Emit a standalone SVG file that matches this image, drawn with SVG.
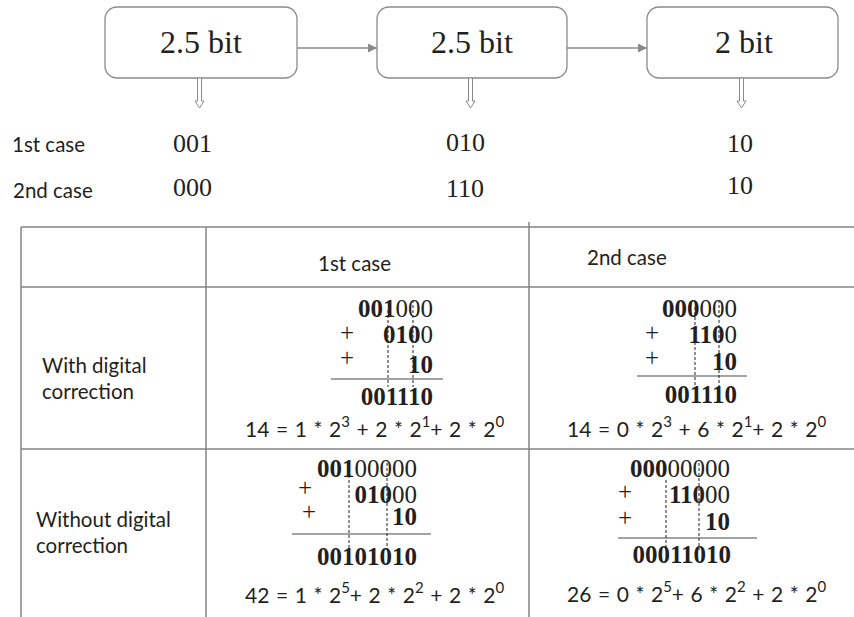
<svg xmlns="http://www.w3.org/2000/svg" width="854" height="617" viewBox="0 0 854 617">
<defs>
<style>
.box{fill:#fff;stroke:#8a8a8a;stroke-width:1.3}
.ln{stroke:#858585;stroke-width:1.5;fill:none}
.conn{stroke:#8a8a8a;stroke-width:1.3;fill:none}
.hol{fill:#fff;stroke:#8a8a8a;stroke-width:1}
.dash{stroke:#231f20;stroke-width:1;stroke-dasharray:3,2;fill:none}
.bt{font-family:"Liberation Serif","Times New Roman",serif;font-size:32px;fill:#231f20;text-anchor:middle}
.code{font-family:"Liberation Serif","Times New Roman",serif;font-size:26px;fill:#231f20}
.num{font-family:"Liberation Serif","Times New Roman",serif;font-size:25px;fill:#231f20;text-anchor:end}
.plus{font-family:"Liberation Serif","Times New Roman",serif;font-size:25px;fill:#231f20;text-anchor:middle}
.b{font-weight:bold}
.sans{font-family:Lato,"Open Sans",sans-serif;font-size:20.5px;fill:#231f20}
.eq{font-family:Lato,"Open Sans",sans-serif;font-size:21px;word-spacing:1.2px;fill:#231f20}
.sup{font-size:15px}
</style>
<marker id="ah" viewBox="0 0 10 10" refX="10" refY="5" markerWidth="9" markerHeight="9" markerUnits="userSpaceOnUse" orient="auto"><path d="M0,0 L10,5 L0,10 Z" fill="#8a8a8a"/></marker>
</defs>

<g id="node-stage1"><rect class="box" x="105" y="7" width="192" height="71" rx="12"/><text class="bt" x="201" y="53">2.5 bit</text></g>
<g id="node-stage2"><rect class="box" x="377" y="7" width="190" height="71" rx="12"/><text class="bt" x="472" y="53">2.5 bit</text></g>
<g id="node-stage3"><rect class="box" x="647" y="7" width="191" height="71" rx="12"/><text class="bt" x="744" y="53">2 bit</text></g>

<g id="connectors">
<line class="conn" x1="297" y1="48" x2="377" y2="48" marker-end="url(#ah)"/>
<line class="conn" x1="567" y1="48" x2="647" y2="48" marker-end="url(#ah)"/>
<polygon class="hol" points="197.5,78 197.5,101 195,101 199.5,108 204,101 201.5,101 201.5,78"/>
<polygon class="hol" points="468.5,78 468.5,101 466,101 470.5,108 475,101 472.5,101 472.5,78"/>
<polygon class="hol" points="739.5,78 739.5,101 737,101 741.5,108 746,101 743.5,101 743.5,78"/>
</g>

<g id="outputs">
<text class="sans" x="12" y="152">1st case</text>
<text class="sans" x="13" y="198">2nd case</text>
<text class="code" x="173" y="152">001</text>
<text class="code" x="173" y="196">000</text>
<text class="code" x="446" y="151">010</text>
<text class="code" x="446" y="197">110</text>
<text class="code" x="727" y="152">10</text>
<text class="code" x="727" y="194">10</text>
</g>

<g id="table">
<path class="ln" d="M21,227 H854 M21,287 H854 M21,449 H854 M21,227 V617 M206,227 V617 M529,222 V617"/>
<text class="sans" x="318" y="271">1st case</text>
<text class="sans" x="587" y="265">2nd case</text>
<text class="sans" x="42" y="373">With digital</text>
<text class="sans" x="42" y="399">correction</text>
<text class="sans" x="36" y="527">Without digital</text>
<text class="sans" x="36" y="553">correction</text>
</g>

<g id="calc-with-1st">
<text class="num" x="433" y="317"><tspan class="b">001</tspan>000</text>
<text class="plus" x="347" y="341">+</text>
<text class="num" x="433" y="343"><tspan class="b">010</tspan>0</text>
<text class="plus" x="347" y="366">+</text>
<text class="num b" x="433" y="373">10</text>
<line class="ln" x1="331" y1="379" x2="443" y2="379"/>
<text class="num b" x="433" y="405">001110</text>
<line class="dash" x1="388" y1="310" x2="388" y2="387"/>
<line class="dash" x1="413" y1="300" x2="413" y2="387"/>
<text class="eq" x="245" y="437">14 = 1 * 2<tspan class="sup" dy="-10">3</tspan><tspan dy="10"> + 2 * 2</tspan><tspan class="sup" dy="-10">1</tspan><tspan dy="10">+ 2 * 2</tspan><tspan class="sup" dy="-10">0</tspan></text>
</g>

<g id="calc-with-2nd">
<text class="num" x="737" y="317"><tspan class="b">000</tspan>000</text>
<text class="plus" x="652" y="341">+</text>
<text class="num" x="737" y="343"><tspan class="b">110</tspan>0</text>
<text class="plus" x="652" y="366">+</text>
<text class="num b" x="737" y="370">10</text>
<line class="ln" x1="637" y1="376" x2="747" y2="376"/>
<text class="num b" x="737" y="403">001110</text>
<line class="dash" x1="695" y1="307" x2="695" y2="387"/>
<line class="dash" x1="719" y1="300" x2="719" y2="387"/>
<text class="eq" x="567" y="437">14 = 0 * 2<tspan class="sup" dy="-10">3</tspan><tspan dy="10"> + 6 * 2</tspan><tspan class="sup" dy="-10">1</tspan><tspan dy="10">+ 2 * 2</tspan><tspan class="sup" dy="-10">0</tspan></text>
</g>

<g id="calc-without-1st">
<text class="num" x="417" y="477"><tspan class="b">001</tspan>00000</text>
<text class="plus" x="305" y="496">+</text>
<text class="num" x="417" y="503"><tspan class="b">010</tspan>00</text>
<text class="plus" x="309" y="520">+</text>
<text class="num b" x="417" y="525">10</text>
<line class="ln" x1="292" y1="534" x2="431" y2="534"/>
<text class="num b" x="417" y="565">00101010</text>
<line class="dash" x1="349" y1="475" x2="349" y2="553"/>
<line class="dash" x1="387" y1="463" x2="387" y2="550"/>
<text class="eq" x="245" y="603">42 = 1 * 2<tspan class="sup" dy="-10">5</tspan><tspan dy="10">+ 2 * 2</tspan><tspan class="sup" dy="-10">2</tspan><tspan dy="10"> + 2 * 2</tspan><tspan class="sup" dy="-10">0</tspan></text>
</g>

<g id="calc-without-2nd">
<text class="num" x="730" y="477"><tspan class="b">000</tspan>00000</text>
<text class="plus" x="625" y="500">+</text>
<text class="num" x="730" y="503"><tspan class="b">110</tspan>00</text>
<text class="plus" x="625" y="526">+</text>
<text class="num b" x="730" y="530">10</text>
<line class="ln" x1="618" y1="538" x2="757" y2="538"/>
<text class="num b" x="731" y="563">00011010</text>
<line class="dash" x1="666" y1="480" x2="666" y2="550"/>
<line class="dash" x1="699" y1="463" x2="699" y2="550"/>
<text class="eq" x="567" y="602">26 = 0 * 2<tspan class="sup" dy="-10">5</tspan><tspan dy="10">+ 6 * 2</tspan><tspan class="sup" dy="-10">2</tspan><tspan dy="10"> + 2 * 2</tspan><tspan class="sup" dy="-10">0</tspan></text>
</g>
</svg>
